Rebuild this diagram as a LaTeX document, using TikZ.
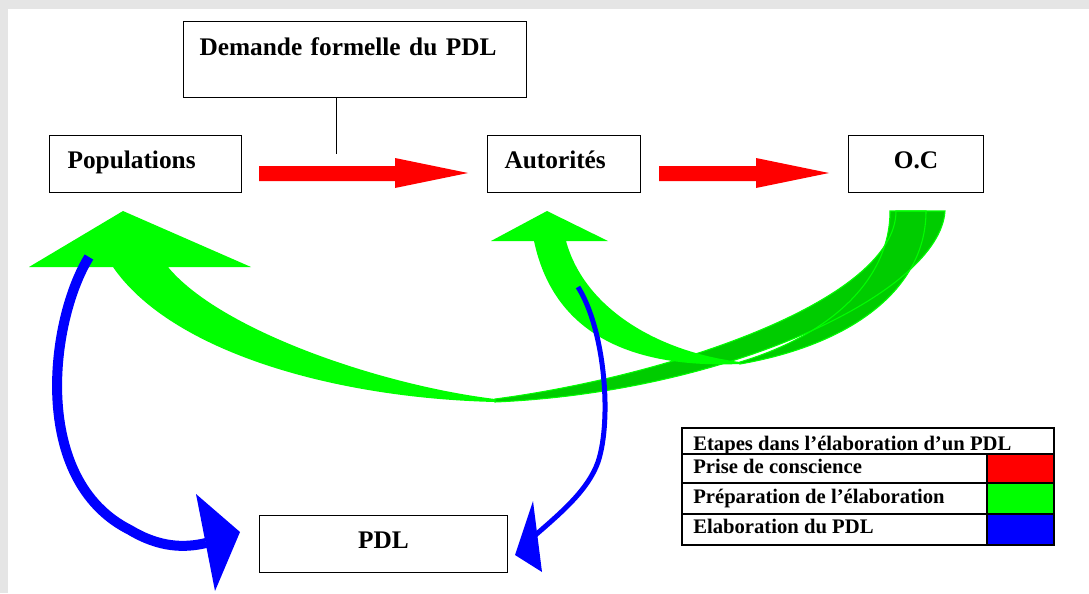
\documentclass[tikz,border=0pt]{standalone}
\usepackage{fontspec}
\setmainfont{Liberation Serif}
\usepackage{xcolor}
\usepackage{tikz}

\definecolor{fond}{RGB}{229,229,229}
\definecolor{vert}{RGB}{0,255,0}
\definecolor{vertfonce}{RGB}{0,204,0}
\definecolor{bleu}{RGB}{0,0,255}
\definecolor{rouge}{RGB}{255,0,0}

\tikzset{
  etape/.style={draw, fill=white, line width=0.8pt, anchor=north west,
    font=\fontsize{19}{22}\selectfont\bfseries,
    inner ysep=0pt, text height=24.75pt, text depth=18pt},
  legende/.style={anchor=base west, inner sep=0pt,
    font=\fontsize{15.5}{18}\selectfont\bfseries},
}

% back halves of the two green ribbons
\newcommand\dosPop{(495,399) .. controls (670,376) and (896,300) .. (896,211)
  -- (945,211) .. controls (940,292) and (730,392) .. (495,402) -- cycle}
\newcommand\dosAut{(740,362) .. controls (830,335) and (890,280) .. (890,211)
  -- (926,211) .. controls (926,290) and (850,345) .. (740,364) -- cycle}

\begin{document}
\begin{tikzpicture}[x=0.75pt, y=-0.75pt]
  % ── Page ──────────────────────────────────────────────
  \fill[fond] (0,0) rectangle (1089,593);
  \fill[white] (8,9) rectangle (1089,593);
  \useasboundingbox (0,0) rectangle (1089,593);

  % ── Boxes ─────────────────────────────────────────────
  \node[etape, text width=233.25pt, align=left, inner xsep=12pt,
        text height=25.5pt, text depth=31.5pt] (demande) at (183,21)
    {Demande formelle du PDL};
  \node[etape, text width=117pt, align=left, inner xsep=13.5pt]
    (pop) at (49,135) {Populations};
  \node[etape, text width=89.25pt, align=left, inner xsep=12.75pt]
    (aut) at (487,135) {Autorités};
  \node[etape, minimum width=101.25pt] (oc) at (848,135) {O.C};
  \node[etape, minimum width=186pt] (pdl) at (259,515) {PDL};

  % link from the request box
  \coordinate (lien) at (336,154);
  \draw[line width=0.6pt] (lien |- demande.south) -- (lien);

  % ── Red arrows (prise de conscience) ──────────────────
  \foreach \xa/\xb/\xc in {259/395/468, 659/756/829}
    \fill[rouge] (\xa,166) -- (\xb,166) -- (\xb,158) -- (\xc,173)
      -- (\xb,188) -- (\xb,181) -- (\xa,181) -- cycle;

  % ── Green ribbons (préparation) ───────────────────────
  \fill[vertfonce] \dosPop;
  \fill[vertfonce] \dosAut;
  \draw[vert, line width=0.8pt] \dosPop;
  \draw[vert, line width=0.8pt] \dosAut;
  % front halves with heads
  \fill[vert] (123,211) -- (251,267) -- (168,267)
    .. controls (220,330) and (380,385) .. (495,399) -- (495,402)
    .. controls (330,398) and (170,350) .. (113,267) -- (29,267) -- cycle;
  \fill[vert] (547,211) -- (608,241) -- (566,241)
    .. controls (585,310) and (660,352) .. (740,362) -- (740,364)
    .. controls (640,368) and (555,340) .. (534,241) -- (491,241) -- cycle;

  % ── Blue arrows (élaboration) ─────────────────────────
  \draw[bleu, line width=7.5pt] (89,257) .. controls (50,320) and (30,480)
    .. (130,530) .. controls (160,548) and (185,548) .. (206,543);
  \fill[bleu] (196,494) -- (240,532) -- (215,591) -- cycle;
  \draw[bleu, line width=3.75pt] (578,287) .. controls (605,330) and (612,420)
    .. (598,462) .. controls (588,490) and (562,512) .. (532,538);
  \fill[bleu] (533,501) -- (515,555) -- (542,572) -- cycle;

  % ── Legend ────────────────────────────────────────────
  \fill[rouge] (987,454) rectangle (1054,483);
  \fill[vert] (987,483) rectangle (1054,514);
  \fill[bleu] (987,514) rectangle (1054,545);
  \draw[line width=0.8pt] (682,428) rectangle (1054,545);
  \foreach \yy in {454,483,514}
    \draw[line width=0.8pt] (682,\yy) -- (1054,\yy);
  \draw[line width=0.8pt] (987,454) -- (987,545);
  \draw[line width=2pt] (682,545) -- (1054,545) -- (1054,428);
  \node[legende] (leg0) at (693,450) {Etapes dans l’élaboration d’un PDL};
  \node[legende] (leg1) at (693,473) {Prise de conscience};
  \node[legende] (leg2) at (693,503) {Préparation de l’élaboration};
  \node[legende] (leg3) at (693,533) {Elaboration du PDL};
\end{tikzpicture}
\end{document}
